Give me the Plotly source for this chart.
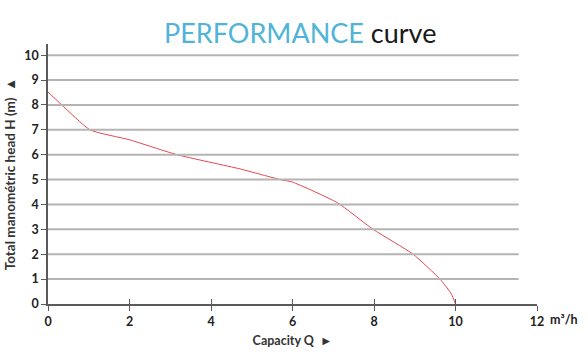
import plotly.graph_objects as go

# Data
capacity_q = [0, 0.34, 1.03, 2.0, 3.17, 4.71, 5.7, 6.0, 7.1, 7.98, 8.96, 9.62, 9.9, 10.0]
head_h = [8.52, 8.0, 7.0, 6.6, 6.0, 5.43, 5.0, 4.9, 4.07, 3.0, 2.0, 1.0, 0.4, 0.0]

x_tickvals = [0, 2, 4, 6, 8, 10, 12]
x_ticktext = ["0", "2", "4", "6", "8", "10", "12"]
y_tickvals = [0, 1, 2, 3, 4, 5, 6, 7, 8, 9, 10]
grid_levels = [1, 2, 3, 4, 5, 6, 7, 8, 9, 10]
grid_end_q = 11.55
x_unit_label = "m³/h"

FONT = "Lato, Open Sans, sans-serif"
AXIS_COLOR = "#5a5a5a"
GRID_COLOR = "#b4b4b4"

# gridline trace built from grid levels
gx, gy = [], []
for lv in grid_levels:
    gx += [0, grid_end_q, None]
    gy += [lv, lv, None]

fig = go.Figure()
fig.add_trace(go.Scatter(x=gx, y=gy, mode="lines", xaxis="x2",
                         line=dict(color=GRID_COLOR, width=2),
                         hoverinfo="skip", showlegend=False))
fig.add_trace(go.Scatter(x=capacity_q, y=head_h, mode="lines",
                         line=dict(color="#e8474f", width=1, shape="spline", smoothing=0.5),
                         showlegend=False))

W, H = 588, 356
ml, mr, mt, mb = 48, 51, 44, 52

fig.update_layout(
    width=W, height=H,
    margin=dict(l=ml, r=mr, t=mt, b=mb, autoexpand=False),
    paper_bgcolor="white", plot_bgcolor="white",
    font=dict(family=FONT, size=12, color="#222"),
    xaxis=dict(range=[0, 12], tickvals=x_tickvals, ticktext=x_ticktext, automargin=False,
               showgrid=False, zeroline=False, showline=True, linecolor=AXIS_COLOR,
               linewidth=1.5, ticks="outside", ticklen=5, tickcolor=AXIS_COLOR,
               tickfont=dict(family=FONT, size=12.5, color="#222", weight="bold"),
               title=dict(text="<b>Capacity Q  ►</b>", standoff=8,
                          font=dict(family=FONT, size=12.5, color="#333"))),
    xaxis2=dict(range=[0, 12], overlaying="x", anchor="y", side="bottom", automargin=False,
                tickvals=x_tickvals, showticklabels=False, showgrid=False,
                zeroline=False, showline=False, ticks="inside", ticklen=5,
                tickcolor=AXIS_COLOR),
    yaxis=dict(range=[0, 10.45], tickvals=y_tickvals, showgrid=False, zeroline=False,
               automargin=False,
               showline=True, linecolor=AXIS_COLOR, linewidth=1.5,
               ticks="outside", ticklen=5, tickcolor=AXIS_COLOR,
               tickfont=dict(family=FONT, size=12.5, color="#222", weight="bold"),
               title=dict(text="<b>Total manométric head H (m)  ▲</b>", standoff=6,
                          font=dict(family=FONT, size=13.5, color="#333"))),
)

fig.add_annotation(text="<span style='color:#4fb4d8'>PERFORMANCE</span> curve",
                   xref="paper", yref="paper", x=(300 - ml) / (W - ml - mr),
                   y=1 + (mt - 33) / (H - mt - mb), xanchor="center", yanchor="middle",
                   showarrow=False, font=dict(family=FONT, size=27, color="#1a1a1a"))
fig.add_annotation(text="<b>" + x_unit_label + "</b>", xref="x", yref="paper",
                   x=12, y=0, xanchor="left", yanchor="top", xshift=11, yshift=-6,
                   showarrow=False, font=dict(family=FONT, size=12.5, color="#222"))

fig.write_html("out.html", config={"displayModeBar": False},
               post_script="document.body.style.margin='0px';")
